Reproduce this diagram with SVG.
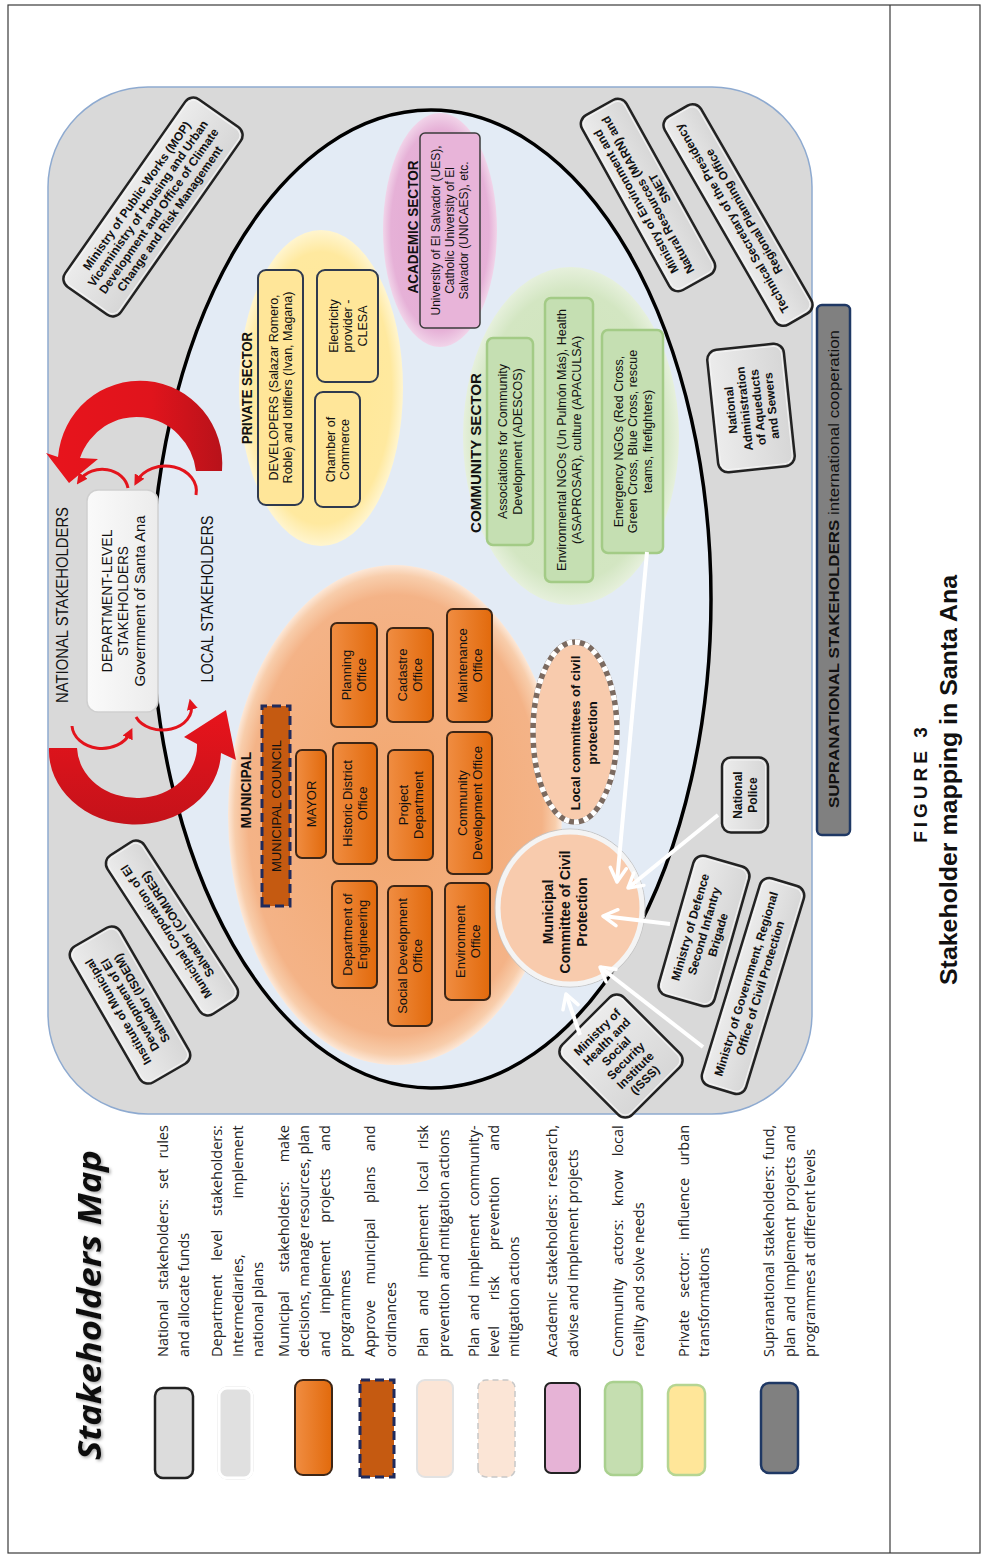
<svg xmlns="http://www.w3.org/2000/svg" width="985" height="1557" viewBox="0 0 985 1557">
<defs>
<style>
text{font-family:"Liberation Sans",Arial,sans-serif;fill:#111}
.m{text-anchor:middle}
.b{font-weight:bold}
.s12{font-size:12px}.s125{font-size:12.5px}.s13{font-size:13px}.s14{font-size:14px}.s15{font-size:15px}.s16{font-size:16px}
.lg{font-family:"Open Sans","Liberation Sans",sans-serif;font-size:14.5px;fill:#222}
.obox{fill:url(#gOrangeBox);stroke:#3d2616;stroke-width:2}
.gbox{fill:url(#gGrayBox);stroke:#222;stroke-width:2.5}
.gin{fill:none;stroke:#f4f4f4;stroke-width:1}
.ybox{fill:#ffe699;stroke:#2f3a4f;stroke-width:2}
.grbox{fill:#c5dfb2;stroke:#a3cb86;stroke-width:2.5}
.council{fill:#c55a11;stroke:#1f2a5c;stroke-width:3;stroke-dasharray:9 5}
.warrow{fill:none;stroke:#fff;stroke-width:4;marker-end:url(#mWhite)}
.rthin{fill:none;stroke:#e3141c;stroke-width:3;marker-end:url(#mRed)}
</style>
<radialGradient id="gOrange"><stop offset="0" stop-color="#f2a66d"/><stop offset="0.88" stop-color="#f4b387"/><stop offset="0.96" stop-color="#f8cdab"/><stop offset="1" stop-color="#fce8d8"/></radialGradient>
<radialGradient id="gYellow"><stop offset="0" stop-color="#ffe794"/><stop offset="0.86" stop-color="#ffe99f"/><stop offset="1" stop-color="#fff5cf"/></radialGradient>
<radialGradient id="gGreen"><stop offset="0" stop-color="#cee3bb"/><stop offset="0.86" stop-color="#d3e6c2"/><stop offset="1" stop-color="#e6f0dc"/></radialGradient>
<radialGradient id="gPink"><stop offset="0" stop-color="#e2a8d1"/><stop offset="0.86" stop-color="#e6b1d7"/><stop offset="1" stop-color="#f1d4e9"/></radialGradient>
<linearGradient id="gOrangeBox" x1="0" y1="0" x2="0" y2="1"><stop offset="0" stop-color="#f08d42"/><stop offset="1" stop-color="#e26a0c"/></linearGradient>
<linearGradient id="gGrayBox" x1="0" y1="0" x2="0" y2="1"><stop offset="0" stop-color="#ececec"/><stop offset="1" stop-color="#d6d6d6"/></linearGradient>
<linearGradient id="gDept" x1="0" y1="0" x2="0" y2="1"><stop offset="0" stop-color="#fafafa"/><stop offset="1" stop-color="#ececec"/></linearGradient>
<linearGradient id="gRedU" x1="0" y1="0" x2="1" y2="0"><stop offset="0" stop-color="#e8141c"/><stop offset="0.6" stop-color="#e0141c"/><stop offset="1" stop-color="#b8121a"/></linearGradient>
<linearGradient id="gRedL" x1="0" y1="0" x2="0" y2="1"><stop offset="0" stop-color="#e8141c"/><stop offset="1" stop-color="#c4121a"/></linearGradient>
<marker id="mRed" viewBox="0 0 10 10" refX="5" refY="5" markerWidth="11" markerHeight="11" markerUnits="userSpaceOnUse" orient="auto"><path d="M0,0 L10,5 L0,10 z" fill="#e3141c"/></marker>
<marker id="mWhite" viewBox="0 0 20 20" refX="17" refY="10" markerWidth="20" markerHeight="20" markerUnits="userSpaceOnUse" orient="auto"><path d="M3,2 L17,10 L3,18" fill="none" stroke="#fff" stroke-width="3.5" stroke-linecap="round" stroke-linejoin="round"/></marker>
<filter id="fShadow" x="-10%" y="-30%" width="120%" height="160%"><feDropShadow dx="-1.5" dy="1.5" stdDeviation="1.5" flood-color="#000" flood-opacity="0.35"/></filter>
</defs>

<rect width="985" height="1557" fill="#fff"/>

<!-- page frame with caption column -->
<g id="frame" fill="none" stroke="#3a3a3a" stroke-width="1.2">
<rect x="8" y="5" width="972" height="1548"/>
<line x1="890" y1="5" x2="890" y2="1553"/>
</g>

<!-- the map is laid out landscape and turned a quarter turn -->
<g id="map" transform="translate(0,1557) rotate(-90)">

<g id="national-stakeholders">
<rect x="443" y="48" width="1027" height="764" rx="100" fill="#d9d9d9" stroke="#8eaad0" stroke-width="1.5"/>
<text class="m s16" x="952" y="68" textLength="196" lengthAdjust="spacingAndGlyphs">NATIONAL STAKEHOLDERS</text>
</g>

<g id="local-stakeholders">
<ellipse cx="958" cy="431" rx="489" ry="280" fill="#e3ebf5" stroke="#000" stroke-width="3.5"/>
<text class="m s16" x="958" y="213" textLength="167" lengthAdjust="spacingAndGlyphs">LOCAL STAKEHOLDERS</text>
</g>

<g id="department-level">
<rect x="845" y="87" width="222" height="71" rx="11" fill="url(#gDept)" stroke="#cfcfcf" stroke-width="1.5"/>
<text class="m s14" x="956" y="112" textLength="143" lengthAdjust="spacingAndGlyphs">DEPARTMENT-LEVEL</text>
<text class="m s14" x="956" y="128" textLength="110" lengthAdjust="spacingAndGlyphs">STAKEHOLDERS</text>
<text class="m s14" x="956" y="145" textLength="171" lengthAdjust="spacingAndGlyphs">Government of Santa Ana</text>
</g>

<g id="municipal">
<ellipse cx="742" cy="395" rx="250" ry="167" fill="url(#gOrange)"/>
<text class="m b s14" x="767" y="251">MUNICIPAL</text>
<g id="municipal-council"><rect class="council" x="651" y="262" width="200" height="28"/><text class="m s13" x="751" y="280.5" textLength="132" lengthAdjust="spacingAndGlyphs">MUNICIPAL COUNCIL</text></g>
<g id="mayor"><rect class="obox" x="699" y="296" width="108" height="30" rx="6"/><text class="m s13" x="753" y="315.5">MAYOR</text></g>
<g id="dept-engineering"><rect class="obox" x="569" y="332" width="107" height="45" rx="6"/><text class="m s13" x="622.5" y="351.5">Department of</text><text class="m s13" x="622.5" y="366.5">Engineering</text></g>
<g id="historic-district"><rect class="obox" x="693" y="333" width="121" height="44" rx="6"/><text class="m s13" x="753.5" y="352">Historic District</text><text class="m s13" x="753.5" y="367">Office</text></g>
<g id="planning-office"><rect class="obox" x="830" y="331" width="104" height="46" rx="6"/><text class="m s13" x="882" y="351">Planning</text><text class="m s13" x="882" y="366">Office</text></g>
<g id="social-development"><rect class="obox" x="531" y="388" width="140" height="44" rx="6"/><text class="m s13" x="601" y="407">Social Development</text><text class="m s13" x="601" y="422">Office</text></g>
<g id="project-department"><rect class="obox" x="697" y="388" width="110" height="45" rx="6"/><text class="m s13" x="752" y="407.5">Project</text><text class="m s13" x="752" y="422.5">Department</text></g>
<g id="cadastre-office"><rect class="obox" x="835" y="387" width="94" height="46" rx="6"/><text class="m s13" x="882" y="407">Cadastre</text><text class="m s13" x="882" y="422">Office</text></g>
<g id="environment-office"><rect class="obox" x="557" y="445" width="117" height="45" rx="6"/><text class="m s13" x="615.5" y="464.5">Environment</text><text class="m s13" x="615.5" y="479.5">Office</text></g>
<g id="community-development"><rect class="obox" x="683" y="447" width="142" height="45" rx="6"/><text class="m s13" x="754" y="466.5">Community</text><text class="m s13" x="754" y="481.5">Development Office</text></g>
<g id="maintenance-office"><rect class="obox" x="835" y="447" width="113" height="45" rx="6"/><text class="m s13" x="891.5" y="466.5">Maintenance</text><text class="m s13" x="891.5" y="481.5">Office</text></g>
</g>

<g id="private-sector">
<ellipse cx="1169" cy="321" rx="158" ry="82" fill="url(#gYellow)"/>
<text class="m b s15" x="1169" y="252" textLength="112" lengthAdjust="spacingAndGlyphs">PRIVATE SECTOR</text>
<g id="developers"><rect class="ybox" x="1052" y="258" width="235" height="45" rx="8"/><text class="m s125" x="1169.5" y="277.5">DEVELOPERS (Salazar Romero,</text><text class="m s125" x="1169.5" y="292">Roble) and lotifiers (Ivan, Magana)</text></g>
<g id="chamber-of-commerce"><rect class="ybox" x="1050" y="315" width="115" height="45" rx="8"/><text class="m s125" x="1107.5" y="334.5">Chamber of</text><text class="m s125" x="1107.5" y="349">Commerce</text></g>
<g id="electricity-provider"><rect class="ybox" x="1175" y="317" width="112" height="61" rx="8"/><text class="m s125" x="1231" y="337.5">Electricity</text><text class="m s125" x="1231" y="352">provider -</text><text class="m s125" x="1231" y="366.5">CLESA</text></g>
</g>

<g id="academic-sector">
<ellipse cx="1327" cy="440" rx="117" ry="57" fill="url(#gPink)"/>
<text class="m b s15" x="1330" y="418" textLength="133" lengthAdjust="spacingAndGlyphs">ACADEMIC SECTOR</text>
<rect x="1229" y="420" width="195" height="60" rx="5" fill="#e8b4d9" stroke="#3b3b3b" stroke-width="1.5"/>
<text class="m s12" x="1326.5" y="440">University of El Salvador (UES),</text>
<text class="m s12" x="1326.5" y="454">Catholic University of El</text>
<text class="m s12" x="1326.5" y="468">Salvador (UNICAES), etc.</text>
</g>

<g id="community-sector">
<ellipse cx="1121" cy="571" rx="169" ry="108" fill="url(#gGreen)"/>
<text class="m b s15" x="1104" y="481" textLength="160" lengthAdjust="spacingAndGlyphs">COMMUNITY SECTOR</text>
<g id="adescos"><rect class="grbox" x="1012" y="487" width="207" height="46" rx="6"/><text class="m s125" x="1115.5" y="507">Associations for Community</text><text class="m s125" x="1115.5" y="521.5">Development (ADESCOS)</text></g>
<g id="environmental-ngos"><rect class="grbox" x="975" y="545" width="284" height="48" rx="6"/><text class="m s125" x="1117" y="566">Environmental NGOs (Un Pulmón Más), Health</text><text class="m s125" x="1117" y="580.5">(ASAPROSAR), culture (APACULSA)</text></g>
<g id="emergency-ngos"><rect class="grbox" x="1004" y="602" width="223" height="61" rx="6"/><text class="m s125" x="1115.5" y="622.5">Emergency NGOs (Red Cross,</text><text class="m s125" x="1115.5" y="637">Green Cross, Blue Cross, rescue</text><text class="m s125" x="1115.5" y="651.5">teams, firefighters)</text></g>
</g>

<g id="local-committees">
<ellipse cx="825" cy="575" rx="90" ry="42" fill="#f8cbad" stroke="#7b6a60" stroke-width="5.5"/>
<ellipse cx="825" cy="575" rx="90" ry="42" fill="none" stroke="#fff" stroke-width="5.5" stroke-dasharray="5 5"/>
<text class="m b s13" x="824" y="580">Local committees of civil</text>
<text class="m b s13" x="824" y="597">protection</text>
</g>

<g id="municipal-committee">
<ellipse cx="649" cy="570" rx="79" ry="75" fill="none" stroke="#c4c4c4" stroke-width="1"/>
<ellipse cx="649" cy="570" rx="76" ry="72" fill="#f8cbad" stroke="#f4f4f4" stroke-width="5"/>
<text class="m b s14" x="645" y="553">Municipal</text>
<text class="m b s14" x="645" y="570">Committee of Civil</text>
<text class="m b s14" x="645" y="587">Protection</text>
</g>

<g id="mop" transform="translate(1350,153) rotate(35)">
<rect class="gbox" x="-114.5" y="-34" width="229" height="68" rx="10"/>
<rect class="gin" x="-112" y="-31.5" width="224" height="63" rx="8"/>
<text class="m b s12" x="0" y="-15.6">Ministry of Public Works (MOP)</text>
<text class="m b s12" x="0" y="-2.2">Viceministry of Housing and Urban</text>
<text class="m b s12" x="0" y="11.2">Development and Office of Climate</text>
<text class="m b s12" x="0" y="24.6">Change and Risk Management</text>
</g>

<g id="isdem" transform="translate(552,130) rotate(-30)">
<rect class="gbox" x="-78.5" y="-28.5" width="157" height="57" rx="10"/>
<rect class="gin" x="-76" y="-26" width="152" height="52" rx="8"/>
<text class="m b s12" x="0" y="-9.4">Institute of Municipal</text>
<text class="m b s12" x="0" y="4.2">Development of El</text>
<text class="m b s12" x="0" y="17.8">Salvador (ISDEM)</text>
</g>

<g id="comures" transform="translate(629,172) rotate(-33)">
<rect class="gbox" x="-94.5" y="-22" width="189" height="44" rx="10"/>
<rect class="gin" x="-92" y="-19.5" width="184" height="39" rx="8"/>
<text class="m b s12" x="0" y="-2.6">Municipal Corporation of El</text>
<text class="m b s12" x="0" y="11">Salvador (COMURES)</text>
</g>

<g id="marn" transform="translate(1362,648) rotate(-29)">
<rect class="gbox" x="-100" y="-25.5" width="200" height="51" rx="10"/>
<rect class="gin" x="-97.5" y="-23" width="195" height="46" rx="8"/>
<text class="m b s12" x="0" y="-9.4">Ministry of Environment and</text>
<text class="m b s12" x="0" y="4.2">Natural Resources (MARN) and</text>
<text class="m b s12" x="0" y="17.8">SNET</text>
</g>

<g id="technical-secretary" transform="translate(1342,738) rotate(-30)">
<rect class="gbox" x="-120" y="-21" width="240" height="42" rx="10"/>
<rect class="gin" x="-117.5" y="-18.5" width="235" height="37" rx="8"/>
<text class="m b s12" x="0" y="-2.6">Technical Secretary of the Presidency</text>
<text class="m b s12" x="0" y="11">Regional Planning Office</text>
</g>

<g id="anda" transform="translate(1149,751) rotate(-6)">
<rect class="gbox" x="-61.5" y="-38.5" width="123" height="77" rx="10"/>
<rect class="gin" x="-59" y="-36" width="118" height="72" rx="8"/>
<text class="m b s12" x="0" y="-16">National</text>
<text class="m b s12" x="0" y="-2.4">Administration</text>
<text class="m b s12" x="0" y="11.2">of Aqueducts</text>
<text class="m b s12" x="0" y="24.8">and Sewers</text>
</g>

<g id="national-police" transform="translate(762,745)">
<rect class="gbox" x="-37.5" y="-23" width="75" height="46" rx="9"/>
<rect class="gin" x="-35" y="-20.5" width="70" height="41" rx="7"/>
<text class="m b s12" x="0" y="-3">National</text>
<text class="m b s12" x="0" y="11.5">Police</text>
</g>

<g id="ministry-defence" transform="translate(626,704) rotate(16)">
<rect class="gbox" x="-72.5" y="-29" width="145" height="58" rx="10"/>
<rect class="gin" x="-70" y="-26.5" width="140" height="53" rx="8"/>
<text class="m b s12" x="0" y="-10.2">Ministry of Defence</text>
<text class="m b s12" x="0" y="4.2">Second Infantry</text>
<text class="m b s12" x="0" y="18.6">Brigade</text>
</g>

<g id="ministry-government" transform="translate(571,753) rotate(17)">
<rect class="gbox" x="-108.5" y="-23" width="217" height="46" rx="10"/>
<rect class="gin" x="-106" y="-20.5" width="212" height="41" rx="8"/>
<text class="m b s12" x="0" y="-3">Ministry of Government, Regional</text>
<text class="m b s12" x="0" y="11.5">Office of Civil Protection</text>
</g>

<g id="ministry-health" transform="translate(501,621) rotate(45)">
<rect class="gbox" x="-43.5" y="-49.5" width="87" height="99" rx="10"/>
<rect class="gin" x="-41" y="-47" width="82" height="94" rx="8"/>
<text class="m b s12" x="0" y="-29.6">Ministry of</text>
<text class="m b s12" x="0" y="-16.1">Health and</text>
<text class="m b s12" x="0" y="-2.6">Social</text>
<text class="m b s12" x="0" y="10.9">Security</text>
<text class="m b s12" x="0" y="24.4">Institute</text>
<text class="m b s12" x="0" y="37.9">(ISSS)</text>
</g>

<g id="supranational">
<rect x="722" y="817" width="530" height="33" rx="5" fill="#808080" stroke="#1f3864" stroke-width="2.5"/>
<text class="m s15" x="988" y="838.5" textLength="478" lengthAdjust="spacingAndGlyphs"><tspan class="b">SUPRANATIONAL STAKEHOLDERS</tspan> international cooperation</text>
</g>

<g id="legend">
<text x="252" y="101" text-anchor="middle" filter="url(#fShadow)" style="font-family:'Open Sans','Liberation Sans',sans-serif;font-size:32px;font-weight:bold;font-style:italic" textLength="310" lengthAdjust="spacingAndGlyphs">Stakeholders Map</text>

<rect x="79" y="155" width="90" height="38" rx="8" fill="#dcdcdc" stroke="#222" stroke-width="2.5"/>
<text class="lg" x="200" y="168" style="word-spacing:6.3px">National stakeholders: set rules</text>
<text class="lg" x="200" y="189">and allocate funds</text>

<rect x="78" y="218" width="92" height="35" rx="9" fill="none" stroke="#cfcfcf" stroke-width="1"/>
<rect x="79" y="219" width="90" height="33" rx="8" fill="#e0e0e0" stroke="#fff" stroke-width="3"/>
<text class="lg" x="200" y="222" style="word-spacing:10.2px">Department level stakeholders:</text>
<text class="lg" x="200" y="243" style="word-spacing:51.9px">Intermediaries, implement</text>
<text class="lg" x="200" y="263">national plans</text>

<rect x="82" y="295" width="95" height="37" rx="8" fill="url(#gOrangeBox)" stroke="#3d2616" stroke-width="2"/>
<text class="lg" x="200" y="289" style="word-spacing:15.3px">Municipal stakeholders: make</text>
<text class="lg" x="200" y="309">decisions, manage resources, plan</text>
<text class="lg" x="200" y="330" style="word-spacing:13.7px">and implement projects and</text>
<text class="lg" x="200" y="350">programmes</text>

<rect class="council" x="80" y="360" width="97" height="34"/>
<text class="lg" x="200" y="375" style="word-spacing:11.7px">Approve municipal plans and</text>
<text class="lg" x="200" y="396">ordinances</text>

<rect x="80" y="417" width="97" height="36" rx="8" fill="#fbe5d6" stroke="#e2e2e2" stroke-width="2"/>
<text class="lg" x="200" y="428" style="word-spacing:8.3px">Plan and implement local risk</text>
<text class="lg" x="200" y="449">prevention and mitigation actions</text>

<rect x="80" y="478" width="97" height="37" rx="8" fill="#fbe5d6" stroke="#c8c8c8" stroke-width="1.5" stroke-dasharray="6 4"/>
<text class="lg" x="200" y="479" style="word-spacing:3.6px">Plan and implement community-</text>
<text class="lg" x="200" y="499" style="word-spacing:22.1px">level risk prevention and</text>
<text class="lg" x="200" y="519">mitigation actions</text>

<rect x="84" y="545" width="90" height="35" rx="6" fill="#e6b3d6" stroke="#222" stroke-width="2"/>
<text class="lg" x="200" y="557" style="word-spacing:3px">Academic stakeholders: research,</text>
<text class="lg" x="200" y="578">advise and implement projects</text>

<rect x="82" y="605" width="93" height="37" rx="8" fill="#c5deb0" stroke="#a9d08e" stroke-width="2.5"/>
<text class="lg" x="200" y="623" style="word-spacing:9.6px">Community actors: know local</text>
<text class="lg" x="200" y="644">reality and solve needs</text>

<rect x="82" y="668" width="90" height="37" rx="8" fill="#ffe699" stroke="#b5d592" stroke-width="2.5"/>
<text class="lg" x="200" y="689" style="word-spacing:8.5px">Private sector: influence urban</text>
<text class="lg" x="200" y="709">transformations</text>

<rect x="84" y="761" width="90" height="37" rx="8" fill="#808080" stroke="#1f3864" stroke-width="2.5"/>
<text class="lg" x="200" y="774" style="word-spacing:1.9px">Supranational stakeholders: fund,</text>
<text class="lg" x="200" y="795" style="word-spacing:2px">plan and implement projects and</text>
<text class="lg" x="200" y="815">programmes at different levels</text>
</g>

<g id="caption">
<text class="m b" x="774" y="927" style="font-size:19px;letter-spacing:4px">FIGURE 3</text>
<text class="m b" x="777" y="957" style="font-size:24px" textLength="410" lengthAdjust="spacingAndGlyphs">Stakeholder mapping in Santa Ana</text>
</g>
</g>

<!-- arrows between levels and towards the civil protection committee -->
<g id="connectors">
<path d="M222,471 A82,83 0 0 0 58,457 L46,453 L69,483 L98,459 L80,458 A60,62 0 0 1 196,471 Z" fill="url(#gRedU)"/>
<path d="M49,748 A86,74 0 0 0 221,753 L236,760 L226,710 L184,737 L197,744 A60,52 0 0 1 77,748 Z" fill="url(#gRedL)"/>
<path class="rthin" d="M128,488 A26,22 0 0 0 80,480"/>
<path class="rthin" d="M196,495 A31,25 0 0 0 137,481"/>
<path class="rthin" d="M72,726 A30,24 0 0 0 130,733"/>
<path class="rthin" d="M136,717 A29,22 0 0 0 191,704"/>
<path class="warrow" d="M647,552 L617,882"/>
<path class="warrow" d="M718,815 L628,888"/>
<path class="warrow" d="M670,924 L603,916"/>
<path class="warrow" d="M703,1047 L600,967"/>
<path class="warrow" d="M580,1035 L566,994"/>
</g>
</svg>
